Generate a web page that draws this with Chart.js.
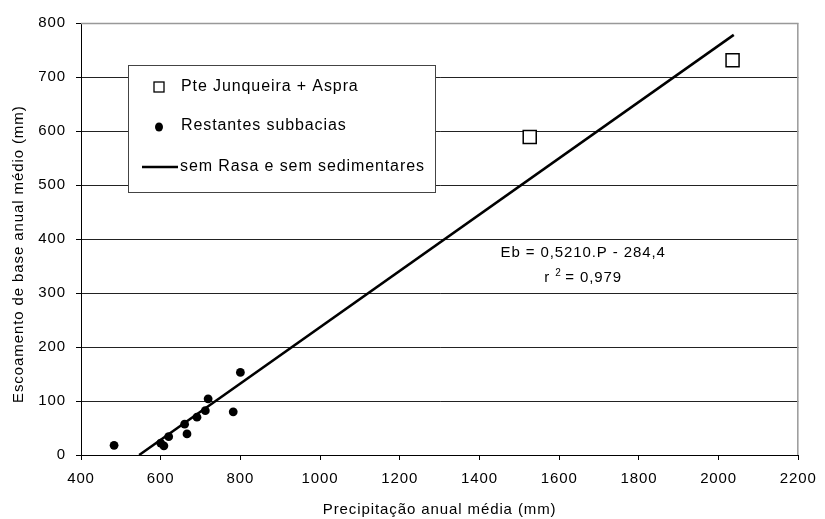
<!DOCTYPE html>
<html>
<head>
<meta charset="utf-8">
<script src="https://cdn.jsdelivr.net/npm/chart.js@4.4.1/dist/chart.umd.min.js"></script>
<style>
  html, body { margin: 0; padding: 0; background: #fff; }
  canvas { display: block; }
</style>
</head>
<body>
<canvas id="baseFlowChart" width="825" height="519"></canvas>
<script>
// Pte Junqueira + Aspra (open squares)
var junqP = [1526, 2035];
var junqE = [589, 731];

// Restantes subbacias (black dots)
var restP = [483, 600, 608, 620, 660, 666, 691, 712, 719, 782, 800];
var restE = [18, 22, 17, 34, 57, 39, 70, 82, 104, 80, 153];

// regression line "sem Rasa e sem sedimentares", end points
var fitP = [546, 2038];
var fitE = [0, 778];

var legendLabels = ['Pte Junqueira + Aspra', 'Restantes subbacias', 'sem Rasa e sem sedimentares'];
var eqText = 'Eb = 0,5210.P - 284,4';
var r2Text = '= 0,979';
var eqAt = { x: 1660, y: 374 };

var FONT = '"Liberation Sans", Arial, sans-serif';
var SPACING = '0.9px'; // the original text is a bit wider than plain Arial

function toPoints(xs, ys) {
    return xs.map(function(x, i) { return { x: x, y: ys[i] }; });
}

// wider letters for everything the chart writes
var spacing = {
    id: 'spacing',
    beforeDraw: function(chart) { chart.ctx.letterSpacing = SPACING; }
};

// frame, custom legend box and the regression text
var overlay = {
    id: 'overlay',
    afterDraw: function(chart) {
        var c = chart.ctx, a = chart.chartArea;
        var xs = chart.scales.x, ys = chart.scales.y;
        c.save();
        c.letterSpacing = SPACING;

        // grey top / right frame
        c.strokeStyle = '#999';
        c.lineWidth = 1.5;
        c.beginPath();
        c.moveTo(a.left, a.top + 0.5);
        c.lineTo(a.right - 0.5, a.top + 0.5);
        c.lineTo(a.right - 0.5, a.bottom);
        c.stroke();

        // legend box
        var bx = a.left + 47, by = a.top + 42, bw = 307, bh = 127;
        c.fillStyle = '#fff';
        c.fillRect(bx, by, bw, bh);
        c.strokeStyle = '#444';
        c.lineWidth = 1;
        c.strokeRect(bx + 0.5, by + 0.5, bw, bh);

        var mx = bx + 31, tx = bx + 53;
        var rows = [by + 22, by + 61, by + 102];

        c.strokeStyle = '#000';
        c.lineWidth = 1.3;
        c.strokeRect(mx - 5, rows[0] - 5, 10, 10);

        c.fillStyle = '#000';
        c.beginPath();
        c.ellipse(mx, rows[1] + 1, 4, 4.5, 0, 0, Math.PI * 2);
        c.fill();

        c.lineWidth = 2.5;
        c.beginPath();
        c.moveTo(bx + 14, rows[2]);
        c.lineTo(bx + 50, rows[2]);
        c.stroke();

        c.font = '16px ' + FONT;
        c.textBaseline = 'middle';
        c.textAlign = 'left';
        legendLabels.forEach(function(t, i) {
            c.fillText(t, i === 2 ? bx + 52 : tx, rows[i]);
        });

        // regression equation
        var ex = xs.getPixelForValue(eqAt.x), ey = ys.getPixelForValue(eqAt.y);
        c.font = '15px ' + FONT;
        c.textAlign = 'center';
        c.fillText(eqText, ex, ey);

        var y2 = ey + 25;
        var wR = c.measureText('r ').width;
        c.font = '10px ' + FONT;
        var wS = c.measureText('2 ').width;
        c.font = '15px ' + FONT;
        var wV = c.measureText(r2Text).width;
        var sx = ex - (wR + wS + wV) / 2;
        c.textAlign = 'left';
        c.fillText('r ', sx, y2);
        c.font = '10px ' + FONT;
        c.fillText('2', sx + wR, y2 - 5);
        c.font = '15px ' + FONT;
        c.fillText(r2Text, sx + wR + wS, y2);

        c.restore();
    }
};

var ctx = document.getElementById('baseFlowChart').getContext('2d');
var myChart = new Chart(ctx, {
    type: 'scatter',
    data: {
        datasets: [{
            label: legendLabels[2],
            type: 'line',
            data: toPoints(fitP, fitE),
            borderColor: '#000',
            borderWidth: 2.5,
            pointRadius: 0,
            fill: false,
            order: 3
        }, {
            label: legendLabels[0],
            data: toPoints(junqP, junqE),
            pointStyle: 'rect',
            pointRadius: 9.2,
            backgroundColor: '#fff',
            borderColor: '#000',
            borderWidth: 1.5,
            order: 1
        }, {
            label: legendLabels[1],
            data: toPoints(restP, restE),
            pointStyle: 'circle',
            pointRadius: 4.4,
            backgroundColor: '#000',
            borderColor: '#000',
            borderWidth: 0,
            order: 2
        }]
    },
    options: {
        responsive: false,
        animation: false,
        layout: { padding: { top: 23, right: 22, left: 0, bottom: 0 } },
        plugins: {
            legend: { display: false },
            tooltip: { enabled: false }
        },
        scales: {
            x: {
                type: 'linear',
                min: 400,
                max: 2200,
                ticks: {
                    stepSize: 200,
                    color: '#000',
                    padding: 10,
                    font: { family: FONT, size: 15 },
                    callback: function(v) { return String(v); }
                },
                grid: { drawOnChartArea: false, tickLength: 5, tickColor: '#000' },
                border: { color: '#000', width: 1 },
                title: {
                    display: true,
                    text: 'Precipitação anual média (mm)',
                    color: '#000',
                    font: { family: FONT, size: 15 },
                    padding: { top: 0, bottom: 0 }
                },
                afterFit: function(scale) { scale.height = 64; }
            },
            y: {
                min: 0,
                max: 800,
                ticks: {
                    stepSize: 100,
                    color: '#000',
                    padding: 10,
                    font: { family: FONT, size: 15 },
                    callback: function(v) { return String(v); }
                },
                grid: {
                    color: function(c) { return c.tick && c.tick.value === 800 ? '#999' : '#222'; },
                    lineWidth: 1,
                    tickLength: 5,
                    tickColor: '#000'
                },
                border: { color: '#000', width: 1 },
                title: {
                    display: true,
                    // trailing spaces push the title a little lower, as in the original
                    text: 'Escoamento de base anual médio (mm)      ',
                    color: '#000',
                    font: { family: FONT, size: 15 },
                    padding: { top: 10, bottom: 0 }
                },
                afterFit: function(scale) { scale.width = 81; }
            }
        }
    },
    plugins: [spacing, overlay]
});
</script>
</body>
</html>
